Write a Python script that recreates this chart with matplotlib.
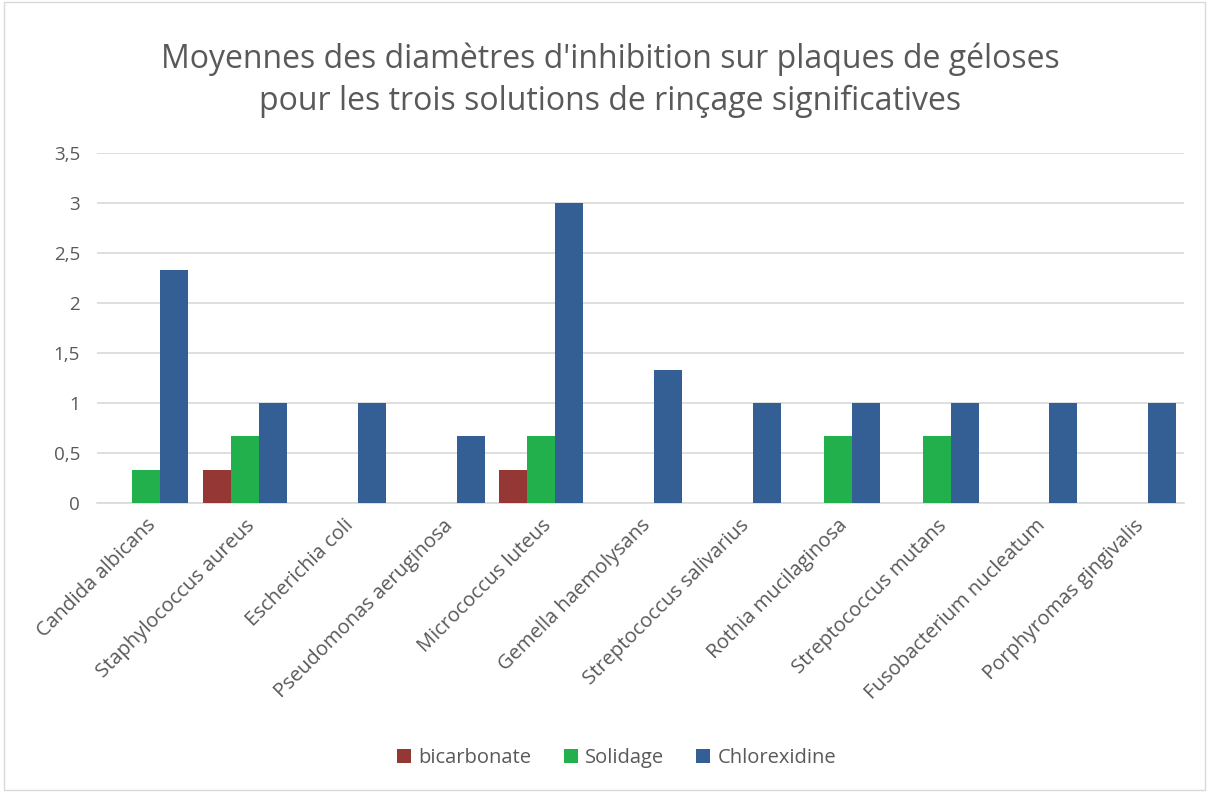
import numpy as np
import matplotlib.pyplot as plt
from matplotlib.patches import Rectangle

species = ["Candida albicans", "Staphylococcus aureus", "Escherichia coli",
           "Pseudomonas aeruginosa", "Micrococcus luteus", "Gemella haemolysans",
           "Streptococcus salivarius", "Rothia mucilaginosa", "Streptococcus mutans",
           "Fusobacterium nucleatum", "Porphyromas gingivalis"]
bicarbonate = [0, 0.333, 0, 0, 0.333, 0, 0, 0, 0, 0, 0]
solidage = [0.333, 0.667, 0, 0, 0.667, 0, 0, 0.667, 0.667, 0, 0]
chlorexidine = [2.333, 1, 1, 0.667, 3, 1.333, 1, 1, 1, 1, 1]
yticks = [0, 0.5, 1, 1.5, 2, 2.5, 3, 3.5]

plt.rcParams['font.family'] = ['Open Sans', 'DejaVu Sans']
txt = '#595959'

fig = plt.figure(figsize=(12.09, 7.92), dpi=100)
ax = fig.add_axes([0.080, 0.365, 0.899, 0.442])

x = np.arange(len(species))
w = 0.284
ax.bar(x - w, bicarbonate, w, color='#953735', label='bicarbonate', zorder=3)
ax.bar(x, solidage, w, color='#21B04B', label='Solidage', zorder=3)
ax.bar(x + w, chlorexidine, w, color='#335F95', label='Chlorexidine', zorder=3)

ax.set_xlim(-0.5, len(species) - 0.5)
ax.set_ylim(0, 3.5)
ax.set_yticks(yticks)
ax.set_yticklabels([("%g" % v).replace('.', ',') for v in yticks], color=txt, fontsize=13.5)
ax.yaxis.grid(True, color='#d9d9d9', linewidth=1.2, zorder=0)
ax.set_xticks(x)
ax.set_xticklabels(species, rotation=45, ha='right', rotation_mode='anchor',
                   color=txt, fontsize=14.5)
ax.tick_params(axis='y', length=0, pad=12)
ax.tick_params(axis='x', length=0, pad=9)
for s in ['top', 'right', 'left']:
    ax.spines[s].set_visible(False)
ax.spines['bottom'].set_color('#d9d9d9')
ax.spines['bottom'].set_linewidth(1.2)

fig.text(0.505, 0.899, "Moyennes des diamètres d'inhibition sur plaques de géloses\n"
         "pour les trois solutions de rinçage significatives",
         ha='center', va='center', fontsize=23, color=txt, linespacing=1.35)

fig.legend(loc='center', bbox_to_anchor=(0.51, 0.043), ncol=3, frameon=False,
           fontsize=14.5, labelcolor=txt, handlelength=0.7, handleheight=0.7,
           handletextpad=0.35, columnspacing=1.6)

fig.patches.append(Rectangle((0.003, 0.003), 0.994, 0.994, transform=fig.transFigure,
                             fill=False, edgecolor='#d9d9d9', linewidth=1))

fig.savefig('out.png', dpi=100)
